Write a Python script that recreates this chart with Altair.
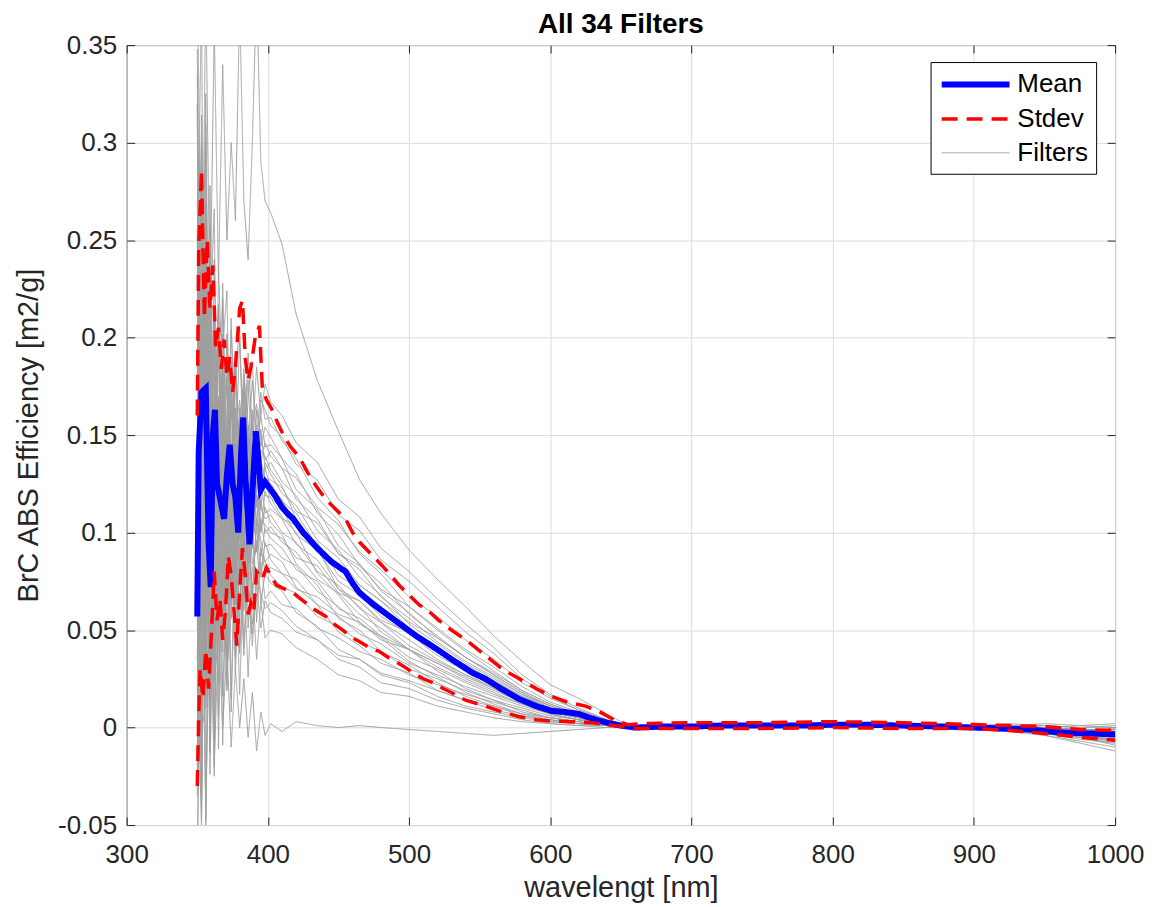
import altair as alt
import pandas as pd

FONT = "Liberation Sans"
UNIT = 1000.0  # values below are typed in units of 0.001 m2/g

# wavelength grid of the individual filter curves [nm]
WL_F = [350, 353, 356, 359, 362, 365, 368, 371, 374, 377, 380, 383, 386, 389, 392, 395, 398,
        402, 410, 420, 435, 450, 465, 480, 500, 520, 540, 560, 580, 600, 620, 640, 655,
        670, 700, 750, 800, 850, 900, 925, 950, 975, 1000]

F01 = [400, 180, 380, 210, 360, 230, 340, 250, 300, 260, 370, 270, 240, 300, 380, 290, 270,
       264, 248, 212, 178, 152, 127, 110, 91, 76, 62, 47, 34, 22, 15, 7, 1,
       0, 1, 1, 1, 1, 0, 0, -1, -3, -5]
F02 = [320, 50, 270, 90, 240, 110, 220, 125, 210, 135, 200, 145, 192, 150, 185, 160, 176,
       167, 160, 146, 136, 117, 108, 92, 80, 66, 53, 41, 27, 17, 10, 4, 1,
       1, 1, 2, 2, 1, 1, 1, 0, -1, -2]
F03 = [50, 266, 90, 238, 106, 214, 118, 202, 130, 192, 136, 184, 143, 178, 150, 172, 158,
       159, 147, 138, 118, 106, 89, 79, 62, 50, 39, 29, 19, 12, 7, 3, 1,
       0, 0, 1, 1, 1, 0, -1, -2, -4, -6]
F04 = [230, 374, 26, 206, 266, 74, 194, 224, 98, 182, 206, 122, 170, 188, 134, 168, 163,
       155, 149, 135, 127, 109, 101, 86, 75, 62, 49, 38, 25, 16, 9, 4, 1,
       1, 1, 1, 2, 1, 1, 2, 1, 0, 1]
F05 = [89, 180, 264, 82, 166, 205, 110, 163, 187, 124, 159, 177, 134, 156, 166, 144, 154,
       149, 138, 130, 110, 99, 83, 74, 58, 47, 36, 27, 18, 11, 7, 3, 1,
       0, 1, 1, 1, 0, 0, -1, -3, -5, -8]
F06 = [348, 88, 98, 278, 108, 128, 228, 113, 138, 193, 123, 148, 178, 133, 143, 160, 144,
       145, 138, 122, 112, 93, 84, 70, 59, 46, 36, 27, 18, 11, 7, 3, 1,
       1, 0, 1, 1, 1, 0, 0, -2, -3, -4]
F07 = [80, -24, 301, 184, 28, 236, 171, 73, 204, 158, 99, 181, 155, 116, 163, 150, 137,
       142, 133, 128, 113, 104, 90, 81, 67, 57, 45, 35, 23, 15, 9, 4, 1,
       0, 1, 1, 2, 1, 1, 1, 2, 1, 2]
F08 = [232, 70, 202, 94, 184, 106, 172, 115, 166, 121, 160, 127, 155, 130, 151, 136, 146,
       139, 133, 117, 107, 89, 81, 67, 56, 44, 34, 26, 17, 11, 6, 3, 1,
       0, 0, 0, 1, 0, -1, -2, -4, -7, -10]
F09 = [-29, 295, 31, 253, 55, 217, 73, 199, 91, 185, 101, 173, 110, 163, 121, 153, 133,
       136, 126, 119, 101, 91, 77, 68, 53, 43, 33, 25, 17, 10, 6, 3, 1,
       1, 1, 1, 1, 1, 0, 0, -1, -2, -3]
F10 = [184, 280, 48, 168, 208, 80, 160, 180, 96, 152, 168, 112, 144, 156, 120, 142, 139,
       132, 124, 107, 92, 71, 62, 49, 40, 29, 20, 14, 8, 5, 3, 1, 0,
       0, 0, 1, 1, 0, 0, -1, -2, -3, -5]
F11 = [34, 177, 309, 23, 155, 216, 67, 150, 188, 89, 144, 172, 105, 139, 155, 120, 136,
       130, 120, 114, 96, 87, 73, 65, 51, 41, 32, 24, 16, 10, 6, 3, 1,
       1, 1, 1, 1, 1, 1, 0, -1, -1, -2]
F12 = [270, 88, 95, 221, 102, 116, 186, 105, 123, 162, 112, 130, 151, 119, 126, 138, 127,
       127, 123, 111, 105, 89, 83, 71, 62, 51, 40, 31, 21, 13, 8, 3, 1,
       0, 0, 1, 1, 1, 0, -1, -3, -6, -8]
F13 = [83, 11, 236, 155, 47, 191, 146, 78, 169, 137, 96, 153, 135, 108, 141, 132, 123,
       125, 116, 110, 93, 84, 71, 62, 49, 40, 31, 23, 15, 10, 6, 3, 1,
       0, 1, 1, 1, 1, 0, 0, 0, -1, -1]
F14 = [320, -31, 255, 21, 216, 47, 190, 66, 177, 79, 164, 92, 154, 99, 145, 112, 133,
       123, 117, 103, 95, 78, 71, 59, 50, 39, 30, 23, 15, 9, 6, 3, 1,
       1, 0, 1, 1, 0, -1, -2, -3, -5, -7]
F15 = [38, 200, 68, 179, 80, 161, 89, 152, 98, 145, 103, 139, 108, 134, 113, 129, 119,
       118, 108, 100, 79, 68, 54, 46, 34, 26, 18, 12, 7, 4, 2, 1, 0,
       0, 0, 1, 1, 1, 1, 1, 0, -1, -1]
F16 = [180, 300, 10, 160, 210, 50, 150, 175, 70, 140, 160, 90, 130, 145, 100, 128, 124,
       118, 112, 99, 91, 75, 68, 57, 48, 37, 29, 22, 14, 9, 5, 2, 0,
       0, 1, 1, 2, 1, 0, -1, -2, -4, -4]
F17 = [0, 169, 325, -13, 143, 215, 39, 137, 182, 65, 130, 163, 84, 124, 143, 101, 121,
       115, 107, 104, 90, 84, 73, 65, 54, 46, 36, 28, 19, 12, 7, 3, 1,
       1, 1, 1, 1, 1, 0, 0, -1, -3, -2]
F18 = [334, 48, 59, 257, 70, 92, 202, 75, 103, 164, 86, 114, 147, 97, 108, 127, 110,
       112, 107, 94, 86, 71, 65, 54, 45, 35, 27, 21, 14, 9, 5, 2, 0,
       0, 0, 1, 1, 0, 0, -1, -4, -8, -12]
F19 = [81, 33, 183, 129, 57, 153, 123, 78, 138, 117, 90, 128, 116, 98, 119, 113, 107,
       109, 100, 95, 80, 73, 61, 54, 42, 34, 27, 20, 13, 8, 5, 2, 0,
       0, 1, 1, 1, 1, 0, 0, -1, -2, -3]
F20 = [228, 12, 188, 44, 164, 60, 148, 72, 140, 80, 132, 88, 126, 92, 120, 100, 113,
       105, 99, 84, 73, 56, 50, 39, 32, 23, 16, 11, 6, 4, 2, 1, 0,
       0, 0, 0, 1, 0, -1, -1, -2, -4, -6]
F21 = [-35, 235, 15, 200, 35, 170, 50, 155, 65, 143, 73, 133, 81, 125, 90, 117, 100,
       103, 95, 90, 76, 69, 58, 51, 40, 33, 25, 19, 13, 8, 5, 2, 0,
       1, 1, 1, 1, 1, 1, 1, 1, 0, 0]
F22 = [138, 210, 36, 126, 156, 60, 120, 135, 72, 114, 126, 84, 108, 117, 90, 107, 104,
       100, 97, 87, 83, 69, 65, 55, 49, 40, 32, 24, 16, 10, 6, 3, 1,
       0, 0, 1, 1, 1, 0, -1, -2, -3, -3]
F23 = [18, 135, 243, 9, 117, 167, 45, 113, 144, 63, 108, 131, 76, 104, 117, 88, 102,
       97, 92, 81, 75, 61, 56, 47, 40, 31, 24, 18, 12, 7, 4, 2, 0,
       0, 1, 1, 1, 0, 0, 0, -1, -2, -4]
F24 = [256, 48, 56, 200, 64, 80, 160, 68, 88, 132, 76, 96, 120, 84, 92, 106, 93,
       94, 87, 83, 70, 62, 53, 47, 36, 30, 23, 17, 12, 7, 4, 2, 0,
       1, 0, 1, 1, 1, 0, -1, -3, -5, -9]
F25 = [37, -51, 224, 125, -7, 169, 114, 31, 142, 103, 53, 123, 101, 68, 107, 96, 85,
       89, 85, 72, 63, 49, 42, 33, 28, 19, 14, 9, 6, 3, 2, 1, 0,
       0, 0, 1, 1, 1, 1, 0, 0, -1, -2]
F26 = [253, -44, 198, 0, 165, 22, 143, 38, 132, 49, 121, 60, 112, 66, 105, 77, 95,
       86, 79, 76, 63, 57, 48, 43, 33, 27, 21, 16, 11, 7, 4, 2, 0,
       0, 1, 1, 1, 0, 0, -1, -2, -5, -6]
F27 = [-14, 175, 21, 151, 35, 130, 45, 119, 56, 111, 62, 104, 67, 98, 73, 92, 80,
       82, 79, 71, 67, 58, 54, 45, 40, 33, 26, 20, 13, 8, 5, 2, 0,
       0, 0, 1, 1, 1, 1, 1, 0, 1, 0]
F28 = [158, 314, -63, 132, 197, -11, 119, 152, 15, 106, 132, 41, 93, 113, 54, 90, 85,
       78, 72, 69, 57, 52, 44, 39, 30, 25, 19, 14, 10, 6, 4, 2, 0,
       0, 0, 0, 1, 0, 0, -1, -3, -4, -7]
F29 = [-14, 116, 236, -24, 96, 151, 16, 91, 126, 36, 86, 111, 51, 81, 96, 64, 79,
       74, 70, 59, 52, 40, 35, 27, 23, 16, 11, 8, 5, 3, 2, 1, 0,
       0, 1, 1, 1, 1, 0, 0, -1, -2, -2]
F30 = [311, -1, 11, 227, 23, 47, 167, 29, 59, 125, 41, 71, 107, 53, 65, 85, 66,
       70, 63, 61, 51, 46, 39, 35, 27, 22, 17, 13, 9, 5, 3, 1, 0,
       0, 0, 1, 1, 1, 0, -1, -2, -4, -5]
F31 = [26, -38, 162, 90, -6, 122, 82, 22, 102, 74, 38, 88, 72, 48, 77, 69, 61,
       64, 60, 52, 45, 35, 31, 23, 20, 14, 10, 7, 4, 2, 1, 1, 0,
       0, 0, 0, 1, 0, 0, 0, -1, -2, -3]
F32 = [195, -48, 150, -12, 123, 6, 105, 19, 96, 28, 87, 37, 80, 42, 74, 51, 65,
       59, 56, 49, 45, 37, 35, 28, 24, 19, 14, 11, 7, 5, 3, 1, 0,
       0, 1, 1, 1, 1, 0, -1, -2, -3, -4]
F33 = [-102, 195, -47, 157, -25, 124, -9, 107, 8, 94, 17, 83, 26, 74, 35, 65, 46,
       50, 48, 41, 35, 27, 24, 18, 16, 11, 8, 5, 3, 2, 1, 0, 0,
       0, 0, 1, 1, 0, 0, 0, -1, -1, -2]
F34 = [-60, 80, -40, 60, -20, 50, 0, 40, -10, 30, 0, 25, -5, 18, -12, 8, -4,
       2, -2, 3, 1, 0, 1, 0, -1, -2, -3, -4, -3, -2, -1, 0, 0,
       0, 0, 0, 0, 0, 0, 0, -1, -2, -3]

FILTERS = [F01, F02, F03, F04, F05, F06, F07, F08, F09, F10, F11, F12, F13, F14, F15, F16, F17,
           F18, F19, F20, F21, F22, F23, F24, F25, F26, F27, F28, F29, F30, F31, F32, F33, F34]

# mean curve
MEAN_WL = [350, 351, 353, 356, 358, 359.5, 361, 362.5, 364, 366, 369, 371, 373, 375, 377, 379, 381,
           382.5, 384, 387, 389, 391.5, 393, 395, 398, 401, 405, 410, 415, 418, 425, 435, 445, 455,
           460, 465, 475, 490, 505, 512, 520, 533, 545, 554, 565, 578, 590, 601, 610, 620, 630, 640,
           650, 660, 680, 700, 720, 750, 780, 800, 820, 850, 880, 900, 920, 940, 960, 980, 1000]
MEAN_V = [57, 141, 172, 174, 95, 72, 150, 163, 125, 118, 107, 130, 145, 125, 118, 100, 140,
          159, 130, 94, 120, 152, 140, 122, 126, 123, 119, 113, 109, 107, 100, 92, 85, 80,
          74, 69, 63, 55, 47, 43.8, 40, 33.6, 28, 25, 20, 14.6, 11, 8.5, 8, 7, 4.5, 2.5,
          1, 0, 0.5, 0.5, 1, 1, 1, 1.5, 1.5, 1, 0.5, 0, -0.5, -1, -2.5, -3, -3.5]

# mean + stdev
UP_WL = [350, 351, 353, 355, 357, 359, 361, 363, 365, 367, 369, 371, 373, 375, 377, 380, 382, 384,
         386, 388, 391, 394, 396, 399, 403, 407, 411, 416, 422, 428, 434, 441, 448, 455, 460, 465,
         473, 481, 487, 493, 500, 507, 515, 521, 530, 542, 554, 566, 578, 590, 601, 612, 625, 635,
         645, 655, 665, 700, 750, 800, 850, 900, 925, 950, 975, 1000]
UP_V = [160, 245, 286, 210, 250, 215, 237, 195, 205, 184, 199, 180, 190, 172, 185, 215, 219, 189,
        178, 185, 200, 206, 175, 168, 163, 156, 150, 144, 139, 131, 124, 117, 112, 107, 100, 95,
        89, 83, 78, 73, 68, 63, 59, 55, 50, 44, 37, 30, 25, 20, 16, 13, 11, 8,
        4, 1.5, 2, 2.5, 2.5, 3, 2.5, 1.5, 1, 0.5, -1, -1.5]

# mean - stdev
LO_WL = [350, 351, 352, 354, 356, 358, 360, 362, 364, 366, 368, 370, 372, 374, 376, 378, 380, 382,
         384, 386, 388, 390, 392, 394, 396, 399, 402, 406, 412, 418, 425, 432, 441, 447, 453, 460,
         465, 472, 479, 485, 491, 497, 503, 510, 517, 524, 530, 540, 554, 566, 578, 590, 601, 615,
         630, 645, 660, 700, 750, 800, 850, 900, 925, 950, 975, 1000]
LO_V = [-30, 5, 30, 15, 40, 20, 48, 80, 55, 66, 45, 60, 88, 78, 60, 42, 70, 92,
        78, 58, 64, 60, 80, 78, 76, 82, 78, 73, 71, 69, 65, 61, 57, 53, 50, 46,
        44, 41, 39, 36, 33.6, 31, 28, 25, 23, 20, 18, 14, 11, 8, 5.5, 4, 3.3, 3,
        2.5, 1, -0.5, -0.5, -0.5, 0, -0.5, -0.5, -1.5, -3, -5, -6.5]

X_TICKS = [300, 400, 500, 600, 700, 800, 900, 1000]
Y_TICKS = [-0.05, 0, 0.05, 0.1, 0.15, 0.2, 0.25, 0.3, 0.35]
KINDS = ["Mean", "Stdev", "Filters"]
COLORS = ["#0000ff", "#ff0000", "#a0a0a0"]
WIDTH_RANGE = [6, 1]
DASHES = [[1, 0], [16, 9], [1, 0]]

for f in FILTERS:
    assert len(f) == len(WL_F)
assert len(MEAN_WL) == len(MEAN_V)
assert len(UP_WL) == len(UP_V)
assert len(LO_WL) == len(LO_V)

rows = []
for i, vals in enumerate(FILTERS, start=1):
    for w, v in zip(WL_F, vals):
        rows.append({"wl": w, "v": v / UNIT, "series": f"F{i:02d}", "kind": "Filters"})
filters_df = pd.DataFrame(rows)
mean_df = pd.DataFrame({"wl": MEAN_WL, "v": [v / UNIT for v in MEAN_V], "kind": "Mean"})
std_df = pd.concat([
    pd.DataFrame({"wl": UP_WL, "v": [v / UNIT for v in UP_V], "side": "upper", "kind": "Stdev"}),
    pd.DataFrame({"wl": LO_WL, "v": [v / UNIT for v in LO_V], "side": "lower", "kind": "Stdev"}),
])

W, H = 991, 782
XSCALE = alt.Scale(domain=[300, 1000], nice=False, zero=False)
YSCALE = alt.Scale(domain=[-0.05, 0.35], nice=False, zero=False)
AX_COL = "#262626"
GRID_COL = "#dcdcdc"

legend = alt.Legend(
    title=None, orient="none", legendX=806, legendY=17,
    symbolType="M-1,0H5", symbolSize=514, symbolFillColor="transparent",
    labelFont=FONT, labelFontSize=26, labelColor="black", labelOffset=50,
    padding=8, rowPadding=7.5, strokeColor="black", fillColor="white",
)
color = alt.Color("kind:N", scale=alt.Scale(domain=KINDS, range=COLORS), legend=legend)
swidth = alt.StrokeWidth("kind:N", scale=alt.Scale(type="point", domain=KINDS, range=WIDTH_RANGE),
                         legend=legend)
sdash = alt.StrokeDash("kind:N", scale=alt.Scale(domain=KINDS, range=DASHES), legend=legend)

x_main = alt.X("wl:Q", scale=XSCALE, axis=alt.Axis(
    orient="bottom", values=X_TICKS, format="d", title="wavelengt [nm]",
    grid=True, gridColor=GRID_COL, domain=False, ticks=False, tickSize=0, labelFlush=False,
    labelFont=FONT, labelFontSize=26, labelColor=AX_COL, labelPadding=17,
    titleFont=FONT, titleFontSize=29, titleFontWeight="normal",
    titleColor=AX_COL, titlePadding=6))
y_main = alt.Y("v:Q", scale=YSCALE, axis=alt.Axis(
    orient="left", values=Y_TICKS, title="BrC ABS Efficiency [m2/g]",
    labelExpr="datum.value < -0.001 ? '-' + format(-datum.value, '.2~f') : format(datum.value, '.2~f')",
    grid=True, gridColor=GRID_COL, domain=False, ticks=False, tickSize=0, labelFlush=False,
    labelFont=FONT, labelFontSize=26, labelColor=AX_COL, labelPadding=10,
    titleFont=FONT, titleFontSize=29, titleFontWeight="normal",
    titleColor=AX_COL, titlePadding=14))


def tick_axis(orient, offset, values):
    return alt.Axis(orient=orient, offset=offset, values=values, labels=False, title=None,
                    grid=False, domain=False, ticks=True, tickSize=8, tickColor=AX_COL,
                    tickWidth=1)


filters_layer = alt.Chart(filters_df).mark_line(clip=True).encode(
    x=x_main, y=y_main, detail="series:N", color=color, strokeWidth=swidth, strokeDash=sdash)

mean_layer = alt.Chart(mean_df).mark_line(clip=True).encode(
    x=alt.X("wl:Q", scale=XSCALE, axis=tick_axis("top", -H, X_TICKS)),
    y=alt.Y("v:Q", scale=YSCALE, axis=tick_axis("right", -W, Y_TICKS)),
    color=color, strokeWidth=swidth, strokeDash=sdash)

std_layer = alt.Chart(std_df).mark_line(clip=True).encode(
    x=alt.X("wl:Q", scale=XSCALE, axis=tick_axis("bottom", -H, X_TICKS)),
    y=alt.Y("v:Q", scale=YSCALE, axis=tick_axis("left", -W, Y_TICKS)),
    detail="side:N", color=color, strokeWidth=swidth, strokeDash=sdash)

chart = alt.layer(filters_layer, mean_layer, std_layer).properties(
    width=W, height=H,
    title=alt.TitleParams("All 34 Filters", font=FONT, fontSize=28, fontWeight="bold",
                          color="black", anchor="middle", frame="group", offset=-7),
    autosize=alt.AutoSizeParams(type="none"),
    padding={"left": 119, "top": 36, "right": 30, "bottom": 85},
    background="white",
).configure_view(stroke=AX_COL, strokeWidth=1)

chart.save("out.html", embed_options={"renderer": "svg", "actions": False})
